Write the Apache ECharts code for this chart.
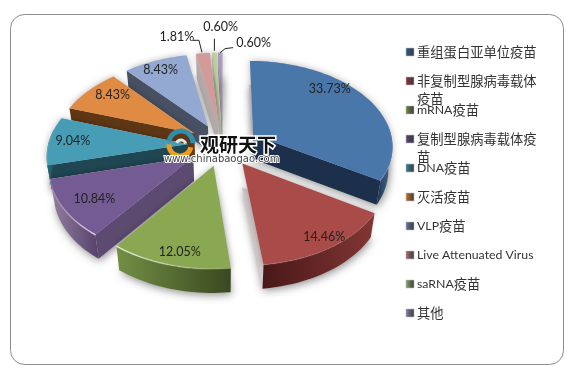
<!DOCTYPE html>
<html>
<head>
<meta charset="utf-8">
<title>疫苗类型占比</title>
<script src="https://cdn.jsdelivr.net/npm/echarts@6/dist/echarts.min.js"></script>
<style>
html, body { margin: 0; padding: 0; background: #fff; }
#chart { width: 573px; height: 371px; }
</style>
</head>
<body>
<div id="chart"></div>
<script>
var categories = ['重组蛋白亚单位疫苗', '非复制型腺病毒载体疫苗', 'mRNA疫苗', '复制型腺病毒载体疫苗', 'DNA疫苗', '灭活疫苗', 'VLP疫苗', 'Live Attenuated Virus', 'saRNA疫苗', '其他'];
var shareValues = [33.73, 14.46, 12.05, 10.84, 9.04, 8.43, 8.43, 1.81, 0.60, 0.60];

// colours
var topColors = ['#4a77aa', '#a94b48', '#8aa851', '#755b93', '#469db5', '#df8b43', '#93a9d1', '#d39a9a', '#c3d69c', '#b2a3c8'];
var sideColors = ['#1c304c', '#5e2220', '#4a5c28', '#5c4a70', '#1f4753', '#5f3715', '#475163', '#b3aaa9', '#b9bfae', '#a8a6b4'];
var wallLeft = ['#1b324f', '#481818', '#728f45', '#94809f', '#2a6a7c', '#6e4018', '#475163', '#b3aaa9', '#b9bfae', '#a8a6b4'];
var wallRight = ['#4f7096', '#823634', '#3a4820', '#56416c', '#1f4753', '#5f3715', '#475163', '#b3aaa9', '#b9bfae', '#a8a6b4'];
var legendIcon = ['#2f5a8c', '#8c3432', '#6f8a3a', '#5a4279', '#2f8198', '#c8711f', '#5f76a3', '#a86a6a', '#8aa56a', '#8a7aa3'];
var rimAlpha = [0.12, 0.15, 0.8, 0.8, 0.2, 0.2, 0.1, 0.1, 0.1, 0.1];
var paintOrder = [6, 8, 9, 7, 5, 4, 3, 2, 1, 0];

// pie geometry
var CX = 223, CY = 145, RX = 140, RY = 85, PERSP = 0.12, EXPLODE = 0.25, DEPTH = 24;
var total = shareValues.reduce(function (a, b) { return a + b; }, 0);
var startAngles = [];
shareValues.reduce(function (acc, v, i) { startAngles[i] = acc; return acc + v / total * 360; }, 0);

var D2R = Math.PI / 180;
function project(i, deg, r, level) {
	var span = shareValues[i] / total * 360;
	var bis = (startAngles[i] + span / 2) * D2R, t = deg * D2R;
	var pu = EXPLODE * Math.sin(bis) + r * Math.sin(t);
	var pv = EXPLODE * Math.cos(bis) + r * Math.cos(t);
	var s = 1 / (1 + PERSP * pv);
	var x = RX * pu * s, y = -RY * pv * s;
	if (level) { x *= 0.975; y += DEPTH; }
	return [CX + x, CY + y];
}
function arcPoints(i, from, to, level) {
	var pts = [], n = Math.max(2, Math.ceil((to - from) / 2));
	for (var k = 0; k <= n; k++) { pts.push(project(i, from + (to - from) * k / n, 1, level)); }
	return pts;
}
function hGrad(a, b) {
	return { type: 'linear', x: 0, y: 0, x2: 1, y2: 0, colorStops: [{ offset: 0, color: a }, { offset: 1, color: b }] };
}

// label anchor in slice terms: radius ratio, then small nudge
var labelRadius = [0.8, 0.85, 0.85, 0.8, 0.8, 0.75, 0.75, 1.3, 1.3, 1.3];
var labelShift = [[-14, -15], [8, 3], [3, 4], [3, 1], [-4, -1], [-1, -6], [-7, -6], [-22, 2], [8, -7], [34, 9]];
var leaderLines = [null, null, null, null, null, null, null, [[-10, -13], [-4, -13], [-1, -1]], [[0, -14], [0, -2]], [[13, -5], [5, -4], [0, 0]]];

function renderSlice(params, api) {
	var i = params.dataIndex, z = paintOrder[i] * 10;
	var a0 = startAngles[i], a1 = a0 + api.value(0) / total * 360;
	var mid = (a0 + a1) / 2;
	var topFace = [project(i, a0, 0, 0)].concat(arcPoints(i, a0, a1, 0));
	var botFace = [project(i, a0, 0, 1)].concat(arcPoints(i, a0, a1, 1));
	var children = [];

	// soft shadow below the piece, pale so it only shows as a thin sliver on hidden cuts
	children.push({ type: 'polygon', z2: z, shape: { points: botFace }, style: { fill: '#d3caca', shadowBlur: 9, shadowColor: 'rgba(0,0,0,0.45)', shadowOffsetX: 1, shadowOffsetY: 2 } });
	children.push({ type: 'polygon', z2: z, shape: { points: topFace }, style: { fill: '#d3caca', shadowBlur: 7, shadowColor: 'rgba(0,0,0,0.28)' } });

	// flat cut walls that face the viewer
	function cutWall(deg) {
		return { type: 'polygon', z2: z + 1, shape: { points: [project(i, deg, 0, 0), project(i, deg, 1, 0), project(i, deg, 1, 1), project(i, deg, 0, 1)] }, style: { fill: sideColors[i] } };
	}
	if (a0 > 180) { children.push(cutWall(a0)); }
	if (a1 < 170) { children.push(cutWall(a1)); }

	// outer rounded wall on the front half
	var from = Math.max(a0, 80), to = Math.min(a1, 280);
	if (to > from) {
		var upper = arcPoints(i, from, to, 0), lower = arcPoints(i, from, to, 1).reverse();
		children.push({ type: 'polygon', z2: z + 2, shape: { points: upper.concat(lower) }, style: { fill: hGrad(wallLeft[i], wallRight[i]) } });
	}

	children.push({ type: 'polygon', z2: z + 3, shape: { points: topFace }, style: { fill: topColors[i] } });

	// bright bevel along the front rim
	if (to > from) {
		children.push({ type: 'polyline', z2: z + 4, shape: { points: arcPoints(i, from, to, 0) }, style: { fill: null, lineWidth: 1.4, stroke: i === 3 ? hGrad('rgba(255,255,255,0.05)', 'rgba(255,255,255,' + rimAlpha[i] + ')') : hGrad('rgba(255,255,255,' + rimAlpha[i] + ')', 'rgba(255,255,255,0.03)') } });
	}

	// value label
	var anchor = project(i, mid, labelRadius[i], 0);
	var lx = anchor[0] + labelShift[i][0], ly = anchor[1] + labelShift[i][1];
	if (leaderLines[i]) {
		var rim = project(i, mid, 1, 0);
		children.push({ type: 'polyline', z2: 200, shape: { points: leaderLines[i].map(function (p) { return [rim[0] + p[0], rim[1] + p[1]]; }) }, style: { fill: null, stroke: '#222', lineWidth: 1 } });
	}
	children.push({ type: 'text', z2: 201, style: { x: lx, y: ly, text: api.value(0).toFixed(2) + '%', fill: '#222', font: '12.5px Lato, "Noto Sans", sans-serif', align: 'center', verticalAlign: 'middle' } });
	return { type: 'group', children: children };
}

// the source breaks cjk names after nine glyphs, latin run stays a touch smaller
function legendText(name) {
	var lines = [];
	if (/^[\x00-\x7f]+$/.test(name)) { lines = [name]; }
	else { for (var k = 0; k < name.length; k += 9) { lines.push(name.slice(k, k + 9)); } }
	return lines.join('\n').replace(/([\x21-\x7e][\x20-\x7e]*)/g, '{en|$1}');
}

// legend column, icon + real text, fixed row pitch like the source
var legendEls = [];
categories.forEach(function (name, i) {
	var y = 52 + 29 * i;
	legendEls.push({ type: 'rect', z: 100, shape: { x: 406, y: y - 4, width: 8, height: 8 }, style: { fill: hGrad(legendIcon[i], '#3a3a3a'), stroke: '#b5bcc6', lineWidth: 0.6 } });
	legendEls.push({ type: 'text', z: 100, style: { x: 417, y: y - 9, text: legendText(name), lineHeight: 18, fill: '#333', font: '13.3px "Noto Sans CJK SC", sans-serif', rich: { en: { font: '12.3px Lato, sans-serif', lineHeight: 18, fill: '#333' } } } });
});

var chart = echarts.init(document.getElementById('chart'), null, { renderer: 'canvas' });
chart.setOption({
	animation: false,
	backgroundColor: '#fff',
	series: [{
		type: 'custom',
		coordinateSystem: 'none',
		renderItem: renderSlice,
		data: shareValues,
		silent: true
	}],
	graphic: { elements: [
		{ type: 'rect', z: 100, shape: { x: 10.5, y: 14.5, width: 553, height: 350, r: 14 }, style: { fill: null, stroke: '#8c8c8c', lineWidth: 1 } }
	].concat(legendEls).concat([
		{ type: 'arc', z: 110, shape: { cx: 181, cy: 143, r: 12, startAngle: 3.3, endAngle: 6.3 }, style: { fill: null, stroke: '#2f8ea8', lineWidth: 5 } },
		{ type: 'arc', z: 110, shape: { cx: 180, cy: 145, r: 11, startAngle: 0.2, endAngle: 3.2 }, style: { fill: null, stroke: '#f09a1e', lineWidth: 5 } },
		{ type: 'arc', z: 110, shape: { cx: 181, cy: 145, r: 5, startAngle: 3.6, endAngle: 6 }, style: { fill: null, stroke: '#d9e6ea', lineWidth: 3 } },
		{ type: 'text', z: 110, style: { x: 200, y: 145, text: '观研天下', fill: '#111', stroke: '#fff', lineWidth: 3, font: 'bold 19px "Noto Sans CJK SC", sans-serif', verticalAlign: 'middle' } },
		{ type: 'text', z: 110, style: { x: 164, y: 159, text: 'www.chinabaogao.com', fill: '#444', stroke: '#fff', lineWidth: 2, font: '10px "DejaVu Sans", sans-serif', verticalAlign: 'middle' } }
	]) }
});
</script>
</body>
</html>
